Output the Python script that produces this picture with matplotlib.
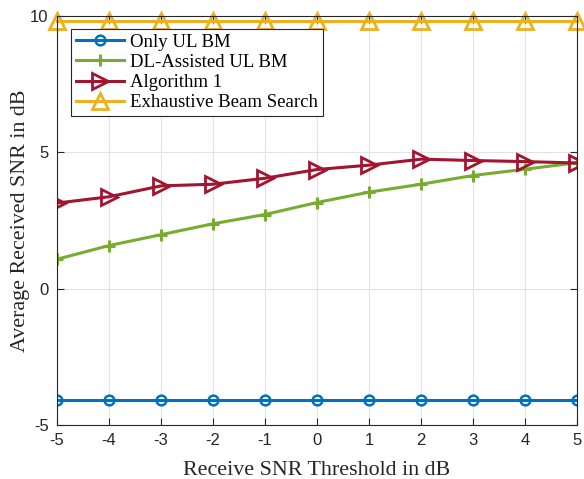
import matplotlib
matplotlib.use('Agg')
import matplotlib.pyplot as plt

# data
snr_threshold = [-5, -4, -3, -2, -1, 0, 1, 2, 3, 4, 5]
only_ul_bm = [-4.08] * 11
dl_assisted = [1.08, 1.58, 1.98, 2.38, 2.72, 3.16, 3.54, 3.83, 4.15, 4.38, 4.62]
algorithm1 = [3.14, 3.37, 3.77, 3.83, 4.05, 4.37, 4.53, 4.75, 4.70, 4.66, 4.61]
exhaustive = [9.82] * 11

labels = ['Only UL BM', 'DL-Assisted UL BM', 'Algorithm 1', 'Exhaustive Beam Search']
colors = ['#0072BD', '#77AC30', '#A2142F', '#EDB120']

serif = ['Liberation Serif', 'DejaVu Serif']
sans = ['Liberation Sans', 'DejaVu Sans']

plt.rcParams['axes.unicode_minus'] = False

fig = plt.figure(figsize=(5.84, 4.79), dpi=100)
ax = fig.add_axes([57 / 584, 1 - 425 / 479, 520 / 584, 409 / 479])

ax.plot(snr_threshold, only_ul_bm, color=colors[0], lw=2.2, marker='o', ms=7,
        mfc='none', mew=1.8, label=labels[0])
ax.plot(snr_threshold, dl_assisted, color=colors[1], lw=2.2, marker='+', ms=8,
        mew=2.2, label=labels[1])
ax.plot(snr_threshold, algorithm1, color=colors[2], lw=2.2, marker='>', ms=11,
        mfc='none', mew=2.0, label=labels[2])
ax.plot(snr_threshold, exhaustive, color=colors[3], lw=2.2, marker='^', ms=11,
        mfc='none', mew=2.0, label=labels[3], clip_on=False)

ax.set_xlim(-5, 5)
ax.set_ylim(-5, 10)
ax.set_xticks(range(-5, 6))
ax.set_yticks([-5, 0, 5, 10])
ax.grid(True, color='#e3e3e3', lw=0.8)
ax.set_axisbelow(True)
ax.tick_params(direction='in', length=5, width=0.8, labelsize=12, colors='#262626',
               top=True, right=True, pad=6)
for lbl in ax.get_xticklabels() + ax.get_yticklabels():
    lbl.set_family(sans)
for s in ax.spines.values():
    s.set_color('#262626')
    s.set_linewidth(0.8)

ax.set_xlabel('Receive SNR Threshold in dB', family=serif, fontsize=15.8, color='#262626', labelpad=9)
ax.set_ylabel('Average Received SNR in dB', family=serif, fontsize=15.8, color='#262626', labelpad=0)

leg = ax.legend(loc='upper left', bbox_to_anchor=(0.027, 0.968), prop={'family': serif, 'size': 13.5},
                fancybox=False, edgecolor='#262626', framealpha=1, handlelength=2.6,
                borderpad=0.25, labelspacing=0.16, handletextpad=0.3, borderaxespad=0)
leg.get_frame().set_linewidth(0.8)

fig.savefig('out.png', dpi=100)
